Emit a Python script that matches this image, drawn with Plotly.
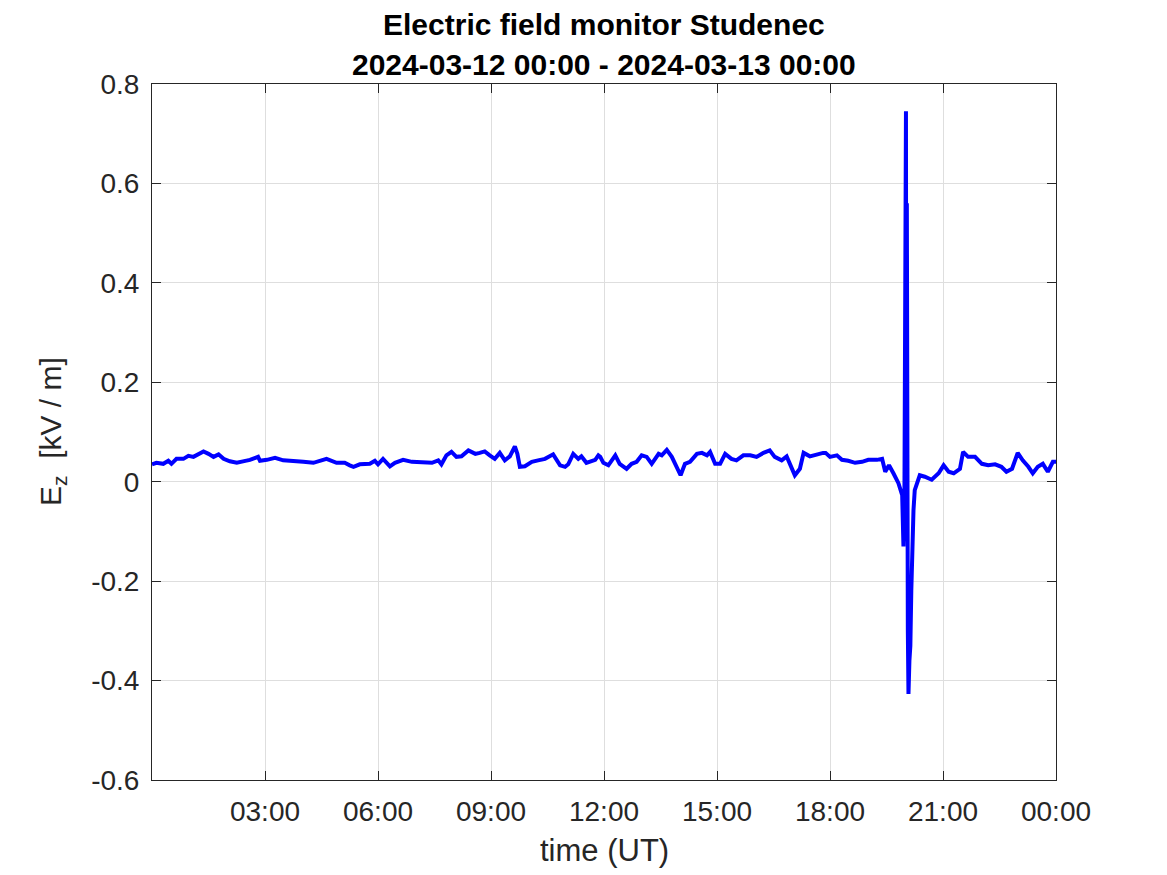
import pandas as pd
import plotly.graph_objects as go

# ---- data ----
# minutes after 2024-03-12 00:00 UT
minutes = [0, 7, 18, 26, 31, 39, 50, 58, 66, 74, 82, 90, 98, 106, 114, 124, 135, 145, 156, 169,
           172, 183, 196, 209, 225, 241, 257, 268, 278, 294, 307, 315, 321, 331, 347, 355, 360, 368, 379, 387,
           400, 414, 430, 446, 456, 461, 469, 477, 485, 493, 504, 515, 522, 530, 538, 546, 554, 562, 570, 578,
           582, 586, 594, 605, 615, 626, 639, 650, 658, 663, 671, 679, 684, 692, 706, 711, 714, 719, 727, 738,
           745, 756, 764, 772, 780, 788, 796, 807, 812, 820, 828, 836, 842, 849, 857, 868, 876, 884, 889, 897,
           905, 913, 923, 931, 942, 953, 963, 974, 984, 992, 1003, 1011, 1019, 1024, 1032, 1038, 1048, 1059, 1069, 1073,
           1080, 1091, 1099, 1109, 1120, 1131, 1141, 1155, 1163, 1168, 1174, 1181, 1189, 1195, 1196, 1197, 1198.5, 1200, 1201, 1201.6,
           1202.4, 1204, 1205, 1206.5, 1208, 1209.5, 1210.6, 1213, 1215, 1223, 1231, 1242, 1253, 1261, 1269, 1277, 1287, 1292, 1300, 1311,
           1322, 1332, 1343, 1353, 1361, 1370, 1379, 1387, 1396, 1403, 1411, 1419, 1427, 1435, 1440]
# vertical electric field Ez [kV/m]
ez = [0.035, 0.038, 0.036, 0.042, 0.036, 0.046, 0.046, 0.052, 0.050, 0.055, 0.061, 0.056, 0.050, 0.055, 0.046, 0.041, 0.038, 0.041, 0.044, 0.050,
      0.042, 0.044, 0.048, 0.043, 0.042, 0.040, 0.038, 0.043, 0.046, 0.038, 0.038, 0.033, 0.030, 0.035, 0.036, 0.042, 0.035, 0.046, 0.031, 0.038,
      0.044, 0.040, 0.040, 0.038, 0.043, 0.035, 0.053, 0.060, 0.050, 0.051, 0.063, 0.056, 0.058, 0.061, 0.053, 0.046, 0.058, 0.043, 0.051, 0.071,
      0.056, 0.030, 0.031, 0.040, 0.043, 0.046, 0.055, 0.033, 0.030, 0.035, 0.056, 0.046, 0.051, 0.038, 0.044, 0.053, 0.050, 0.038, 0.033, 0.053,
      0.036, 0.026, 0.036, 0.040, 0.053, 0.050, 0.036, 0.056, 0.053, 0.064, 0.050, 0.026, 0.013, 0.036, 0.040, 0.056, 0.058, 0.053, 0.060, 0.036,
      0.036, 0.056, 0.046, 0.043, 0.053, 0.053, 0.050, 0.058, 0.063, 0.050, 0.043, 0.051, 0.030, 0.013, 0.026, 0.058, 0.051, 0.055, 0.058, 0.058,
      0.050, 0.053, 0.044, 0.042, 0.038, 0.040, 0.044, 0.044, 0.046, 0.020, 0.033, 0.017, -0.003, -0.027, -0.060, -0.130, -0.050, 0.690, 0.745, -0.120,
      0.560, -0.300, -0.427, -0.360, -0.330, -0.220, -0.128, -0.057, -0.017, 0.013, 0.010, 0.004, 0.017, 0.033, 0.020, 0.017, 0.026, 0.060, 0.050, 0.050,
      0.036, 0.033, 0.035, 0.030, 0.020, 0.026, 0.058, 0.043, 0.030, 0.017, 0.030, 0.036, 0.020, 0.040, 0.040]

x_tickvals = ["2024-03-12 03:00", "2024-03-12 06:00", "2024-03-12 09:00", "2024-03-12 12:00",
              "2024-03-12 15:00", "2024-03-12 18:00", "2024-03-12 21:00", "2024-03-13 00:00"]
x_ticktext = ["03:00", "06:00", "09:00", "12:00", "15:00", "18:00", "21:00", "00:00"]
y_tickvals = [-0.6, -0.4, -0.2, 0, 0.2, 0.4, 0.6, 0.8]
y_ticktext = ["-0.6", "-0.4", "-0.2", "0", "0.2", "0.4", "0.6", "0.8"]

start = pd.Timestamp("2024-03-12 00:00")
xs = [start + pd.Timedelta(minutes=m) for m in minutes]

FONT = "Liberation Sans, Arial, Helvetica, sans-serif"
AX = "#262626"

fig = go.Figure()
fig.add_trace(go.Scatter(x=xs, y=ez, mode="lines",
                         line=dict(color="#0000ff", width=4), showlegend=False))

fig.update_layout(
    width=1167, height=875,
    margin=dict(l=144, r=119, t=76, b=103, pad=0),
    paper_bgcolor="white", plot_bgcolor="white",
    font=dict(family=FONT, size=28, color=AX),
    xaxis=dict(range=["2024-03-12 00:00", "2024-03-13 00:00"], type="date",
               tickvals=x_tickvals, ticktext=x_ticktext,
               showgrid=True, gridcolor="#dedede", gridwidth=1,
               showline=True, linecolor=AX, linewidth=1, mirror="ticks",
               ticks="inside", ticklen=9, tickcolor=AX, zeroline=False,
               ticklabelstandoff=6,
               tickfont=dict(size=28, color=AX, family=FONT)),
    yaxis=dict(range=[-0.6, 0.8], tickvals=y_tickvals, ticktext=y_ticktext,
               showgrid=True, gridcolor="#dedede", gridwidth=1,
               showline=True, linecolor=AX, linewidth=1, mirror="ticks",
               ticks="inside", ticklen=9, tickcolor=AX, zeroline=False,
               ticklabelstandoff=6,
               tickfont=dict(size=28, color=AX, family=FONT)),
    annotations=[
        dict(text="<b>Electric field monitor Studenec</b>", xref="paper", yref="paper",
             x=0.5, y=1, xanchor="center", yanchor="middle", yshift=60, showarrow=False,
             font=dict(size=30, color="black", family=FONT)),
        dict(text="<b>2024-03-12 00:00 - 2024-03-13 00:00</b>", xref="paper", yref="paper",
             x=0.5, y=1, xanchor="center", yanchor="middle", yshift=20, showarrow=False,
             font=dict(size=30, color="black", family=FONT)),
        dict(text="time (UT)", xref="paper", yref="paper", x=0.5, y=0,
             xanchor="center", yanchor="middle", yshift=-70, showarrow=False,
             font=dict(size=31, color=AX, family=FONT)),
        dict(text="E<sub>z</sub>  [kV / m]", xref="paper", yref="paper", x=0, y=0.5,
             xanchor="center", yanchor="middle", xshift=-100, textangle=-90, showarrow=False,
             font=dict(size=30, color=AX, family=FONT)),
    ],
)

fig.write_html("out.html")
